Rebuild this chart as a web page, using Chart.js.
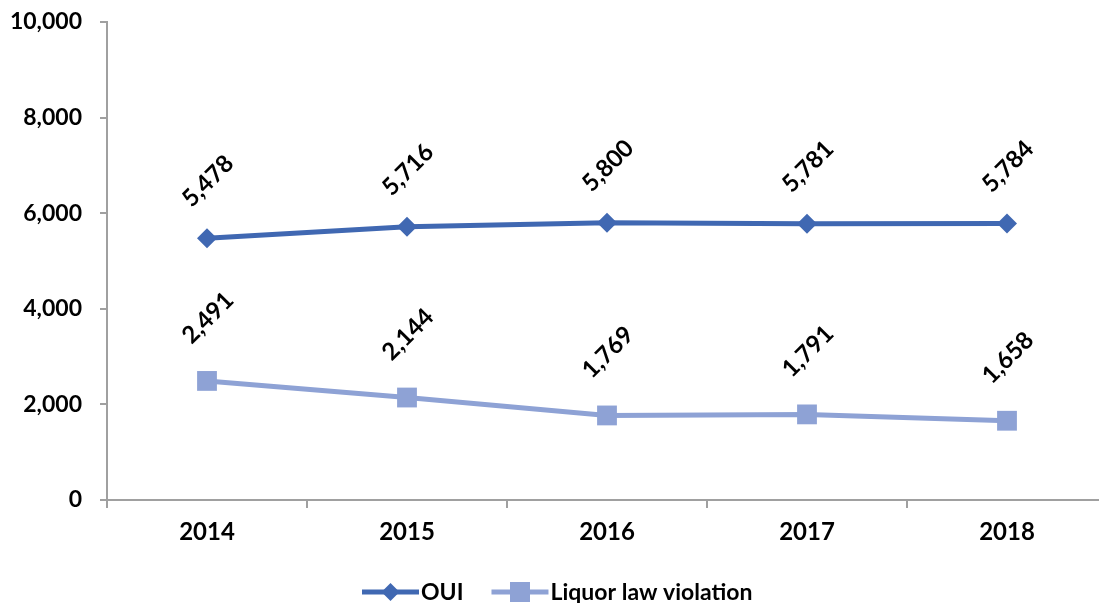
<!DOCTYPE html>
<html><head><meta charset="utf-8">
<script src="https://cdn.jsdelivr.net/npm/chart.js@4"></script>
<style>
html,body{margin:0;padding:0;background:#fff;overflow:hidden}
#wrap{width:1099px;height:603px;overflow:hidden;position:relative}
canvas{display:block}
</style></head>
<body>
<div id="wrap"><canvas id="c" width="1121" height="603"></canvas></div>
<script>
const categories = ['2014','2015','2016','2017','2018'];
const seriesNames = ['OUI','Liquor law violation'];
const ouiValues = [5478, 5716, 5800, 5781, 5784];
const liquorValues = [2491, 2144, 1769, 1791, 1658];
const yTicks = [0, 2000, 4000, 6000, 8000, 10000];

const FONT = 'Lato, "Open Sans", sans-serif';
const C1 = '#4068B2', C2 = '#8EA2D5';
const fmt = v => v.toLocaleString('en-US');

const labelPlugin = {
  id: 'rotLabels',
  afterDatasetsDraw(chart) {
    const ctx = chart.ctx;
    chart.data.datasets.forEach((ds, i) => {
      const meta = chart.getDatasetMeta(i);
      const off = ds.labelOffset;
      meta.data.forEach((pt, j) => {
        ctx.save();
        ctx.translate(pt.x + 1, pt.y - off);
        ctx.rotate(-Math.PI / 4);
        ctx.font = 'bold 24px ' + FONT;
        ctx.fillStyle = '#000';
        ctx.textAlign = 'center';
        ctx.textBaseline = 'middle';
        ctx.fillText(fmt(ds.data[j]), 0, 0);
        ctx.restore();
      });
    });
  }
};

const legendPlugin = {
  id: 'lineLegend',
  afterDraw(chart) {
    const ctx = chart.ctx;
    ctx.save();
    ctx.font = 'bold 23px ' + FONT;
    ctx.textBaseline = 'middle';
    const y = 592, lineW = 57, gap = 2, itemGap = 28;
    let x = 362;
    chart.data.datasets.forEach(ds => {
      const cx = x + lineW / 2;
      ctx.strokeStyle = ds.borderColor;
      ctx.lineWidth = 5;
      ctx.beginPath(); ctx.moveTo(x, y); ctx.lineTo(x + lineW, y); ctx.stroke();
      ctx.fillStyle = ds.backgroundColor;
      ctx.beginPath();
      if (ds.pointStyle === 'rectRot') {
        const r = 9;
        ctx.moveTo(cx, y - r); ctx.lineTo(cx + r, y); ctx.lineTo(cx, y + r); ctx.lineTo(cx - r, y); ctx.closePath();
      } else {
        const r = 10;
        ctx.rect(cx - r, y - r, 2 * r, 2 * r);
      }
      ctx.fill();
      ctx.fillStyle = '#000';
      ctx.textAlign = 'left';
      ctx.fillText(ds.label, x + lineW + gap, y + 1);
      x += lineW + gap + ctx.measureText(ds.label).width + itemGap;
    });
    ctx.restore();
  }
};

new Chart(document.getElementById('c'), {
  type: 'line',
  data: {
    labels: categories,
    datasets: [
      {label: seriesNames[0], data: ouiValues, borderColor: C1, backgroundColor: C1, borderWidth: 5,
       pointStyle: 'rectRot', pointRadius: 10, pointHoverRadius: 10, pointBorderWidth: 0, labelOffset: 57},
      {label: seriesNames[1], data: liquorValues, borderColor: C2, backgroundColor: C2, borderWidth: 5,
       pointStyle: 'rect', pointRadius: 14, pointHoverRadius: 14, pointBorderWidth: 0, labelOffset: 63}
    ]
  },
  options: {
    responsive: false,
    animation: false,
    devicePixelRatio: 1,
    layout: {padding: {top: 22, right: 0, left: 0, bottom: 0}},
    plugins: {legend: {display: false}, tooltip: {enabled: false}},
    scales: {
      x: {
        offset: true,
        grid: {display: true, drawOnChartArea: false, offset: true, tickLength: 8, color: '#A0A0A0', lineWidth: 2},
        border: {color: '#A0A0A0', width: 2},
        ticks: {color: '#000', font: {family: FONT, size: 24, weight: 'bold'}, padding: 10, maxRotation: 0},
        afterFit: s => { s.height = 103; s.paddingLeft = 0; s.paddingRight = 0; }
      },
      y: {
        min: 0, max: 10000,
        afterBuildTicks: s => { s.ticks = yTicks.map(v => ({value: v})); },
        grid: {display: true, drawOnChartArea: false, tickLength: 7, color: '#A0A0A0', lineWidth: 2},
        border: {color: '#A0A0A0', width: 2},
        ticks: {color: '#000', font: {family: FONT, size: 23, weight: 'bold'}, padding: 18, callback: v => fmt(v)},
        afterFit: s => { s.width = 107; s.paddingTop = 0; s.paddingBottom = 0; }
      }
    }
  },
  plugins: [labelPlugin, legendPlugin]
});
</script>
</body></html>
